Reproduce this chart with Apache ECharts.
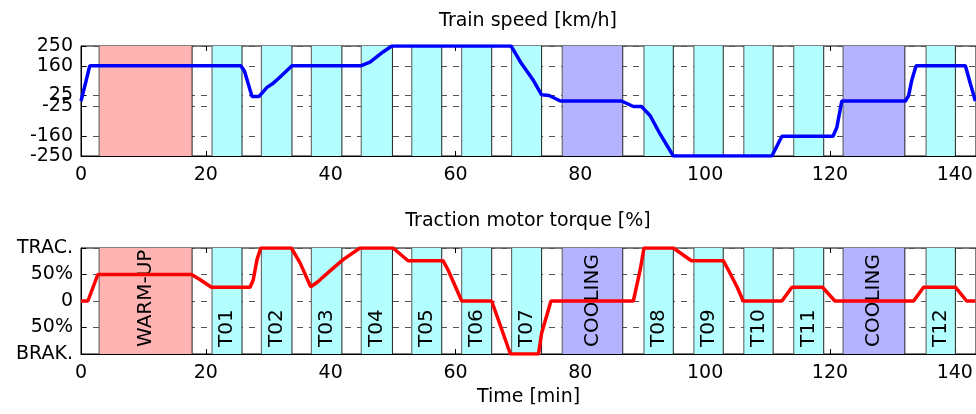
<!DOCTYPE html>
<html><head><meta charset="utf-8">
<script src="https://cdn.jsdelivr.net/npm/echarts@6/dist/echarts.min.js"></script>
<style>html,body{margin:0;padding:0;background:#fff}#c{width:976px;height:414px}</style>
</head><body><div id="c"></div>
<script>
// ---- data ----
const xTicks = [0, 20, 40, 60, 80, 100, 120, 140];
const speedTicks = [-250, -160, -25, 25, 160, 250];
const torqueTicks = [-100, -50, 0, 50, 100];
const torqueTickLabels = ['BRAK.', '50%', '0', '50%', 'TRAC.'];

const blockStart = [2.9, 21.0, 28.9, 36.9, 44.9, 53.0, 61.0, 69.0, 77.1, 90.2, 98.2, 106.2, 114.2, 122.1, 135.4];
const blockEnd   = [17.8, 25.8, 33.8, 41.8, 49.9, 57.8, 65.8, 73.8, 86.8, 94.9, 102.9, 110.9, 119.0, 132.0, 140.1];
const blockLabel = ['WARM-UP', 'T01', 'T02', 'T03', 'T04', 'T05', 'T06', 'T07', 'COOLING', 'T08', 'T09', 'T10', 'T11', 'COOLING', 'T12'];
const blockKind  = [0, 1, 1, 1, 1, 1, 1, 1, 2, 1, 1, 1, 1, 2, 1];

const speedT = [0, 0.8, 1.4, 25.6, 26.2, 27.4, 28.5, 29.8, 30.8, 31.6, 33.8, 44.8, 46.3, 48.4, 49.8, 68.9, 69.8, 70.6, 72.5, 73.8, 75.0, 76.8, 86.6, 88.5, 89.8, 91.2, 92.8, 94.9, 110.7, 112.3, 120.5, 121.1, 121.9, 132.1, 132.6, 133.1, 133.8, 141.7, 142.5, 143.3];
const speedV = [0, 90, 160, 160, 135, 20, 20, 62, 81, 101, 160, 160, 177, 223, 250, 250, 207, 169, 93, 28, 25, 0, 0, -25, -25, -67, -151, -250, -250, -160, -160, -120, 0, 0, 24, 93, 160, 160, 78, 0];

const torqueT = [0, 1.1, 2.7, 17.7, 19.1, 20.9, 27.1, 27.6, 28.2, 28.8, 33.7, 35.1, 36.8, 37.8, 38.3, 40.4, 42.0, 44.7, 50.0, 52.4, 58.0, 58.8, 61.0, 65.8, 68.8, 73.3, 73.8, 75.3, 88.5, 89.6, 90.2, 94.9, 97.8, 102.9, 103.7, 105.1, 106.1, 112.3, 113.9, 118.8, 120.8, 133.4, 135.0, 140.1, 141.9, 143.3];
const torqueV = [0, 0, 50, 50, 40, 26, 26, 40, 78, 100, 100, 72, 27, 35, 40, 62, 78, 100, 100, 76, 76, 59, 0, 0, -100, -100, -61, 0, 0, 59, 100, 100, 76, 76, 59, 27, 0, 0, 26, 26, 0, 0, 26, 26, 0, 0];

// ---- styles ----
const FONT = '"DejaVu Sans", Arial, sans-serif';
const FS = 19;
const blockColors = ['#ffb3b3', '#b3ffff', '#b3b3ff'];
const X_MAX = 143.4;

function blockRender(ymin, ymax, withText) {
  return function (params, api) {
    const s = api.value(0), e = api.value(1), k = api.value(2);
    const p0 = api.coord([s, ymax]);
    const p1 = api.coord([e, ymin]);
    const children = [
      { type: 'rect', shape: { x: p0[0], y: p0[1], width: p1[0] - p0[0], height: p1[1] - p0[1] },
        style: { fill: blockColors[k], stroke: null } },
      { type: 'line', shape: { x1: p0[0], y1: p0[1], x2: p0[0], y2: p1[1] }, style: { stroke: '#555', lineWidth: 1 } },
      { type: 'line', shape: { x1: p1[0], y1: p0[1], x2: p1[0], y2: p1[1] }, style: { stroke: '#222', lineWidth: 1 } }
    ];
    if (withText) {
      children.push({
        type: 'text', x: (p0[0] + p1[0]) / 2, y: p1[1] - 7, rotation: Math.PI / 2,
        style: { text: blockLabel[params.dataIndex], fill: '#000', font: '20px ' + FONT, align: 'left', verticalAlign: 'middle' }
      });
    }
    return { type: 'group', children: children };
  };
}

const blockData = blockStart.map((s, i) => [s, blockEnd[i], blockKind[i]]);
const speedData = speedT.map((t, i) => [t, speedV[i]]);
const torqueData = torqueT.map((t, i) => [t, torqueV[i]]);

function bottomX(grid, extra) {
  return Object.assign({
    type: 'value', gridIndex: grid, min: 0, max: X_MAX, position: 'bottom',
    axisLine: { show: true, onZero: false, lineStyle: { color: '#000', width: 1 } },
    axisTick: { show: true, inside: true, length: 5, lineStyle: { color: '#000' }, customValues: xTicks },
    axisLabel: { show: true, margin: 10, color: '#000', fontSize: FS, fontFamily: FONT, customValues: xTicks,
      showMinLabel: true, showMaxLabel: true, hideOverlap: false },
    splitLine: { show: false }
  }, extra || {});
}
function topX(grid) {
  return {
    type: 'value', gridIndex: grid, min: 0, max: X_MAX, position: 'top',
    axisLine: { show: false, onZero: false },
    axisTick: { show: true, inside: true, length: 5, lineStyle: { color: '#000' }, customValues: xTicks },
    axisLabel: { show: false },
    splitLine: { show: false }
  };
}
function yAx(grid, min, max, ticks, fmt) {
  return {
    type: 'value', gridIndex: grid, min: min, max: max,
    axisLine: { show: true, onZero: false, lineStyle: { color: '#000', width: 1 } },
    axisTick: { show: true, inside: true, length: 5, lineStyle: { color: '#000' }, customValues: ticks },
    axisLabel: { show: true, margin: 8, color: '#000', fontSize: FS, fontFamily: FONT, customValues: ticks, formatter: fmt,
      showMinLabel: true, showMaxLabel: true, hideOverlap: false },
    splitLine: { show: true, lineStyle: { color: '#555', type: [6, 6], width: 1 } }
  };
}

const chart = echarts.init(document.getElementById('c'), null, { renderer: 'canvas' });
chart.setOption({
  animation: false,
  backgroundColor: '#fff',
  graphic: [
    { type: 'text', x: 528, y: 21, style: { text: 'Train speed [km/h]', fill: '#000', font: FS + 'px ' + FONT, align: 'center', verticalAlign: 'middle' } },
    { type: 'text', x: 528, y: 221, style: { text: 'Traction motor torque [%]', fill: '#000', font: FS + 'px ' + FONT, align: 'center', verticalAlign: 'middle' } }
  ],
  grid: [
    { left: 81, top: 46, right: 0, height: 110, show: true, borderColor: '#000', borderWidth: 1, backgroundColor: 'transparent' },
    { left: 81, top: 248, right: 0, height: 106, show: true, borderColor: '#000', borderWidth: 1, backgroundColor: 'transparent' }
  ],
  xAxis: [
    bottomX(0),
    topX(0),
    bottomX(1, { name: 'Time [min]', nameLocation: 'middle', nameGap: 34,
      nameTextStyle: { color: '#000', fontSize: FS, fontFamily: FONT } }),
    topX(1)
  ],
  yAxis: [
    yAx(0, -250, 250, speedTicks, function (v) { return String(v); }),
    yAx(1, -100, 100, torqueTicks, function (v) { const i = torqueTicks.indexOf(v); return i >= 0 ? torqueTickLabels[i] : ''; })
  ],
  series: [
    { type: 'custom', xAxisIndex: 0, yAxisIndex: 0, data: blockData, renderItem: blockRender(-250, 250, false), z: 2, silent: true },
    { type: 'line', xAxisIndex: 0, yAxisIndex: 0, data: speedData, showSymbol: false, symbol: 'none',
      lineStyle: { color: '#0000ff', width: 3.5 }, itemStyle: { color: '#0000ff' }, z: 5 },
    { type: 'custom', xAxisIndex: 2, yAxisIndex: 1, data: blockData, renderItem: blockRender(-100, 100, true), z: 2, silent: true },
    { type: 'line', xAxisIndex: 2, yAxisIndex: 1, data: torqueData, showSymbol: false, symbol: 'none',
      lineStyle: { color: '#ff0000', width: 3.5 }, itemStyle: { color: '#ff0000' }, z: 5 }
  ]
});
</script>
</body></html>
